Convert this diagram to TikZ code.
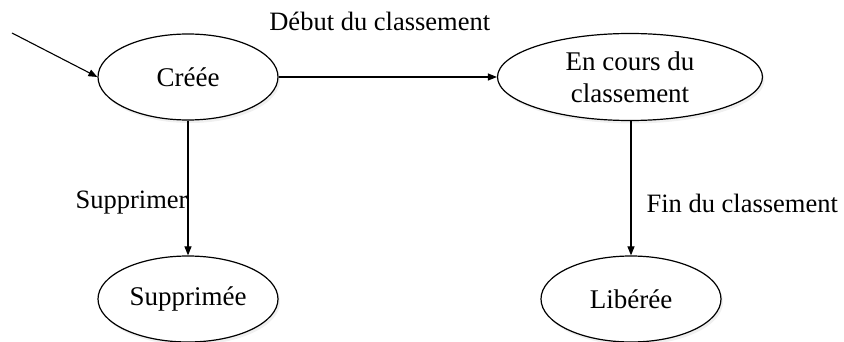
\documentclass[tikz,border=0pt]{standalone}
\usepackage{fontspec}
\setmainfont{Liberation Serif}
\usetikzlibrary{arrows.meta,shapes.geometric,shadows}
\tikzset{every picture/.style={line width=0.75pt}}
\tikzset{
  etat/.style={ellipse, draw, line width=1.2pt, fill=white, inner sep=0pt,
    minimum width=180pt, minimum height=86pt, align=center,
    font=\fontsize{27}{32}\selectfont,
    drop shadow={opacity=0.12, shadow xshift=2pt, shadow yshift=-3pt}},
  trans/.style={-{Triangle[length=9pt,width=7pt]}, line width=1.1pt},
  etiq/.style={font=\fontsize{26.5}{31}\selectfont, inner sep=0pt}
}

\begin{document}
\begin{tikzpicture}[x=1pt, y=-1pt]
    \useasboundingbox (0,0) rectangle (844,342);

    % les etats
    \node[etat] (creee) at (188,77) {Créée};
    \node[etat, minimum width=265pt, minimum height=87pt] (encours) at (630,77) {En cours du\\classement};
    \node[etat] (supprimee) at (188,299) {Supprimée};
    \node[etat] (liberee) at (631,299) {Libérée};

    % etat initial
    \coordinate (debut) at (12,33);
    \draw[trans] (debut) -- (creee.west);

    % les transitions
    \draw[trans] (creee.east) -- node[etiq, above=46pt, xshift=-8pt] {Début du classement} (encours.west);
    \draw[trans] (creee.south) -- node[etiq, pos=0.61, anchor=east] {Supprimer} (supprimee.north);
    \draw[trans] (encours.south -| liberee.north) -- node[etiq, pos=0.61, anchor=west, xshift=15pt] {Fin du classement} (liberee.north);
\end{tikzpicture}
\end{document}
